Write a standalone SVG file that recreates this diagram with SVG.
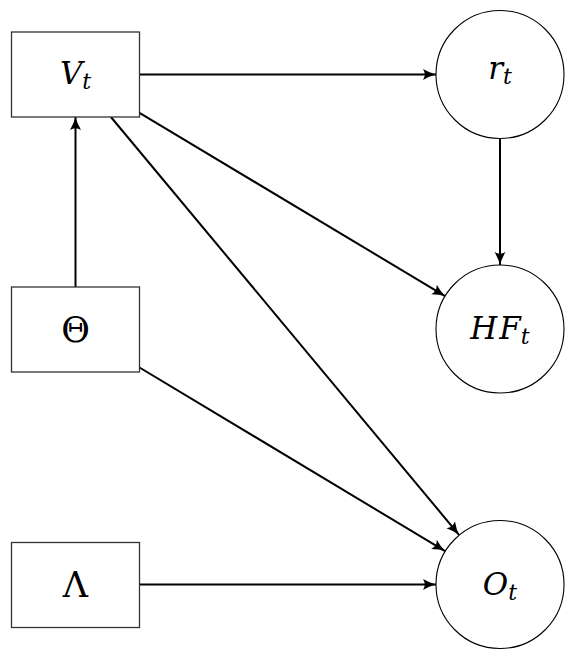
<svg xmlns="http://www.w3.org/2000/svg" width="573" height="651" viewBox="0 0 573 651">
<style>
.box{fill:#fff;stroke:#333;stroke-width:1.3}
.circ{fill:#fff;stroke:#000;stroke-width:1.1}
.lbl{font-family:'DejaVu Serif','Liberation Serif',serif;font-size:31px;fill:#000;text-anchor:middle}
.gr{font-size:35px}
.it{font-style:italic}
.sub{font-size:22px}
.edge{stroke:#000;stroke-width:2;fill:none;marker-end:url(#ah)}
</style>
<defs>
<marker id="ah" markerUnits="userSpaceOnUse" markerWidth="16" markerHeight="14" viewBox="0 0 16 14" refX="13" refY="7" orient="auto">
<path d="M0,1.5 Q7,5.5 13,7 Q7,8.5 0,12.5 Q3.5,7 0,1.5 Z" fill="#000"/>
</marker>
</defs>
<rect width="573" height="651" fill="#fff"/>
<g id="connectors">
<line class="edge" x1="139.5" y1="74.5" x2="436" y2="74.5"/>
<line class="edge" x1="500" y1="138.5" x2="500" y2="265"/>
<line class="edge" x1="75.5" y1="287" x2="75.5" y2="117"/>
<line class="edge" x1="139.5" y1="112.9" x2="445.1" y2="296.1"/>
<line class="edge" x1="110.9" y1="117" x2="459" y2="534.8"/>
<line class="edge" x1="139.5" y1="367.5" x2="445.1" y2="551.1"/>
<line class="edge" x1="139.5" y1="584.5" x2="436" y2="584.5"/>
</g>
<g id="node-Vt">
<rect class="box" x="11.5" y="32" width="128" height="85"/>
<text class="lbl" x="75.5" y="84"><tspan class="it">V</tspan><tspan class="it sub" dy="5">t</tspan></text>
</g>
<g id="node-rt">
<circle class="circ" cx="500" cy="74.5" r="64"/>
<text class="lbl" x="500" y="79"><tspan class="it">r</tspan><tspan class="it sub" dy="5">t</tspan></text>
</g>
<g id="node-HFt">
<circle class="circ" cx="500" cy="329" r="64"/>
<text class="lbl" x="500" y="339"><tspan class="it">H</tspan><tspan class="it" dx="2">F</tspan><tspan class="it sub" dy="5">t</tspan></text>
</g>
<g id="node-Theta">
<rect class="box" x="11.5" y="287" width="128" height="85"/>
<text class="lbl gr" x="75.5" y="342">Θ</text>
</g>
<g id="node-Lambda">
<rect class="box" x="11.5" y="542.5" width="128" height="85"/>
<text class="lbl gr" x="75.5" y="597">Λ</text>
</g>
<g id="node-Ot">
<circle class="circ" cx="500" cy="584.5" r="64"/>
<text class="lbl" x="500" y="595"><tspan class="it">O</tspan><tspan class="it sub" dy="5">t</tspan></text>
</g>
</svg>
